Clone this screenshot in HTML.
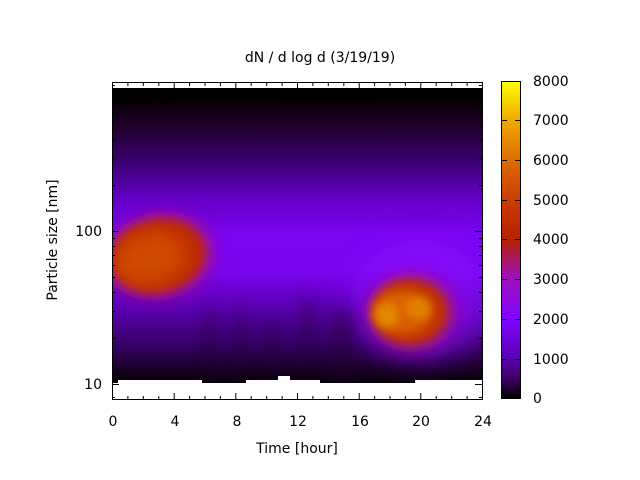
<!DOCTYPE html>
<html><head><meta charset="utf-8"><style>
html,body{margin:0;padding:0;background:#fff;}
svg{display:block;font-family:"DejaVu Sans","Liberation Sans",sans-serif;}
</style></head><body>
<svg width="640" height="480" viewBox="0 0 640 480" xmlns="http://www.w3.org/2000/svg">
<defs>
<linearGradient id="bg" x1="0" y1="88" x2="0" y2="382" gradientUnits="userSpaceOnUse">
<stop offset="0" stop-color="#000000"/>
<stop offset="0.05" stop-color="#0a0005"/>
<stop offset="0.12" stop-color="#1e0025"/>
<stop offset="0.25" stop-color="#3a0070"/>
<stop offset="0.38" stop-color="#6400c8"/>
<stop offset="0.5" stop-color="#7a06f2"/>
<stop offset="0.62" stop-color="#7a06f0"/>
<stop offset="0.75" stop-color="#5a00b0"/>
<stop offset="0.87" stop-color="#38006a"/>
<stop offset="0.96" stop-color="#160020"/>
<stop offset="1" stop-color="#080008"/>
</linearGradient>
<linearGradient id="cb" x1="0" y1="398" x2="0" y2="81" gradientUnits="userSpaceOnUse">
<stop offset="0" stop-color="#000000"/>
<stop offset="0.06" stop-color="#3c0060"/>
<stop offset="0.125" stop-color="#5a00b4"/>
<stop offset="0.25" stop-color="#8004ff"/>
<stop offset="0.375" stop-color="#9c0fc0"/>
<stop offset="0.5" stop-color="#b52000"/>
<stop offset="0.625" stop-color="#c93d00"/>
<stop offset="0.75" stop-color="#dd6c00"/>
<stop offset="0.875" stop-color="#efa900"/>
<stop offset="1" stop-color="#ffff00"/>
</linearGradient>
<filter id="b12" x="-100%" y="-100%" width="300%" height="300%"><feGaussianBlur stdDeviation="14"/></filter>
<filter id="b8" x="-100%" y="-100%" width="300%" height="300%"><feGaussianBlur stdDeviation="8"/></filter>
<filter id="b5" x="-100%" y="-100%" width="300%" height="300%"><feGaussianBlur stdDeviation="5"/></filter>
<filter id="b3" x="-100%" y="-100%" width="300%" height="300%"><feGaussianBlur stdDeviation="4"/></filter>
<clipPath id="cp"><rect x="112" y="88" width="370" height="295"/></clipPath>
</defs>
<text x="320" y="62" font-size="14" text-anchor="middle">dN / d log d (3/19/19)</text>
<g clip-path="url(#cp)">
<rect x="112" y="88" width="370" height="295" fill="url(#bg)"/>
<ellipse cx="420" cy="300" rx="70" ry="60" fill="#8a0cff" filter="url(#b12)" opacity="0.6"/>
<!-- dark vertical streaks -->
<rect x="205" y="310" width="12" height="75" fill="#200030" filter="url(#b8)" opacity="0.45"/>
<rect x="235" y="310" width="12" height="75" fill="#200030" filter="url(#b8)" opacity="0.45"/>
<rect x="265" y="320" width="15" height="65" fill="#200030" filter="url(#b8)" opacity="0.4"/>
<rect x="300" y="300" width="14" height="85" fill="#200030" filter="url(#b8)" opacity="0.45"/>
<rect x="330" y="310" width="25" height="75" fill="#200030" filter="url(#b8)" opacity="0.45"/>
<!-- blob 1 -->
<ellipse cx="160" cy="256" rx="56" ry="44" fill="#a0109a" filter="url(#b8)" opacity="0.8" transform="rotate(-12 160 256)"/>
<ellipse cx="158" cy="256" rx="48" ry="37" fill="#be2a00" filter="url(#b5)" transform="rotate(-12 158 256)"/>
<ellipse cx="150" cy="258" rx="36" ry="26" fill="#cf4a00" filter="url(#b8)" transform="rotate(-12 150 258)"/>
<!-- blob 2 -->
<ellipse cx="412" cy="312" rx="46" ry="40" fill="#a0109a" filter="url(#b8)" opacity="0.8"/>
<ellipse cx="410" cy="312" rx="38" ry="33" fill="#c03000" filter="url(#b5)"/>
<ellipse cx="402" cy="312" rx="30" ry="22" fill="#d86000" filter="url(#b5)"/>
<ellipse cx="387" cy="315" rx="12" ry="12" fill="#e89000" filter="url(#b3)" opacity="0.8"/>
<ellipse cx="418" cy="308" rx="13" ry="11" fill="#e48800" filter="url(#b3)" opacity="0.8"/>
<!-- top black band -->
<rect x="112" y="88" width="370" height="12" fill="#000"/>
<rect x="112" y="100" width="40" height="4" fill="#000"/>
<rect x="160" y="100" width="10" height="5" fill="#000"/>
<rect x="282" y="100" width="90" height="4" fill="#050003"/>
<!-- bottom white -->
<path d="M112 383 L118 383 L118 380 L202 380 L202 383 L246 383 L246 380 L278 380 L278 376 L290 376 L290 380 L320 380 L320 383 L415 383 L415 380 L482 380 L482 400 L112 400 Z" fill="#fff"/>
</g>
<rect x="112.5" y="82.5" width="370" height="317" fill="none" stroke="#000" stroke-width="1"/>
<g stroke="#000" stroke-width="1">
<path d="M112.5 399v-6M174.2 399v-6M235.8 399v-6M297.5 399v-6M359.2 399v-6M420.8 399v-6M482.5 399v-6M112.5 83v6M174.2 83v6M235.8 83v6M297.5 83v6M359.2 83v6M420.8 83v6M482.5 83v6"/>
<path d="M127.9 399v-3M143.3 399v-3M158.8 399v-3M189.6 399v-3M205 399v-3M220.4 399v-3M251.2 399v-3M266.7 399v-3M282.1 399v-3M312.9 399v-3M328.3 399v-3M343.8 399v-3M374.6 399v-3M390 399v-3M405.4 399v-3M436.2 399v-3M451.7 399v-3M467.1 399v-3M127.9 83v3M143.3 83v3M158.8 83v3M189.6 83v3M205 83v3M220.4 83v3M251.2 83v3M266.7 83v3M282.1 83v3M312.9 83v3M328.3 83v3M343.8 83v3M374.6 83v3M390 83v3M405.4 83v3M436.2 83v3M451.7 83v3M467.1 83v3"/>
<path d="M112 384.5h7M112 231.5h7M482 384.5h-7M482 231.5h-7"/>
<path d="M112 397.5h3M112 338.5h3M112 311.5h3M112 292.5h3M112 277.5h3M112 265.5h3M112 255.5h3M112 246.5h3M112 238.5h3M112 185.5h3M112 158.5h3M112 139.5h3M112 124.5h3M112 112.5h3M112 102.5h3M112 93.5h3M112 85.5h3
M482 397.5h-3M482 338.5h-3M482 311.5h-3M482 292.5h-3M482 277.5h-3M482 265.5h-3M482 255.5h-3M482 246.5h-3M482 238.5h-3M482 185.5h-3M482 158.5h-3M482 139.5h-3M482 124.5h-3M482 112.5h-3M482 102.5h-3M482 93.5h-3M482 85.5h-3"/>
</g>
<g font-size="14" text-anchor="middle">
<text x="113" y="426">0</text><text x="175" y="426">4</text><text x="237" y="426">8</text><text x="298" y="426">12</text><text x="360" y="426">16</text><text x="421" y="426">20</text><text x="483" y="426">24</text>
<text x="297" y="453">Time [hour]</text>
</g>
<g font-size="14" text-anchor="end">
<text x="102" y="389">10</text><text x="102" y="236">100</text>
</g>
<text transform="translate(57 240) rotate(-90)" font-size="14" text-anchor="middle">Particle size [nm]</text>
<rect x="501.5" y="81.5" width="19" height="317" fill="url(#cb)" stroke="#000" stroke-width="1"/>
<g stroke="#000" stroke-width="1">
<path d="M501 120.5h6M501 160.5h6M501 200.5h6M501 239.5h6M501 279.5h6M501 319.5h6M501 359.5h6M521 120.5h-6M521 160.5h-6M521 200.5h-6M521 239.5h-6M521 279.5h-6M521 319.5h-6M521 359.5h-6"/>
</g>
<g font-size="14" text-anchor="start">
<text x="533" y="403">0</text><text x="533" y="364">1000</text><text x="533" y="324">2000</text><text x="533" y="284">3000</text><text x="533" y="244">4000</text><text x="533" y="205">5000</text><text x="533" y="165">6000</text><text x="533" y="125">7000</text><text x="533" y="86">8000</text>
</g>
</svg>
</body></html>
